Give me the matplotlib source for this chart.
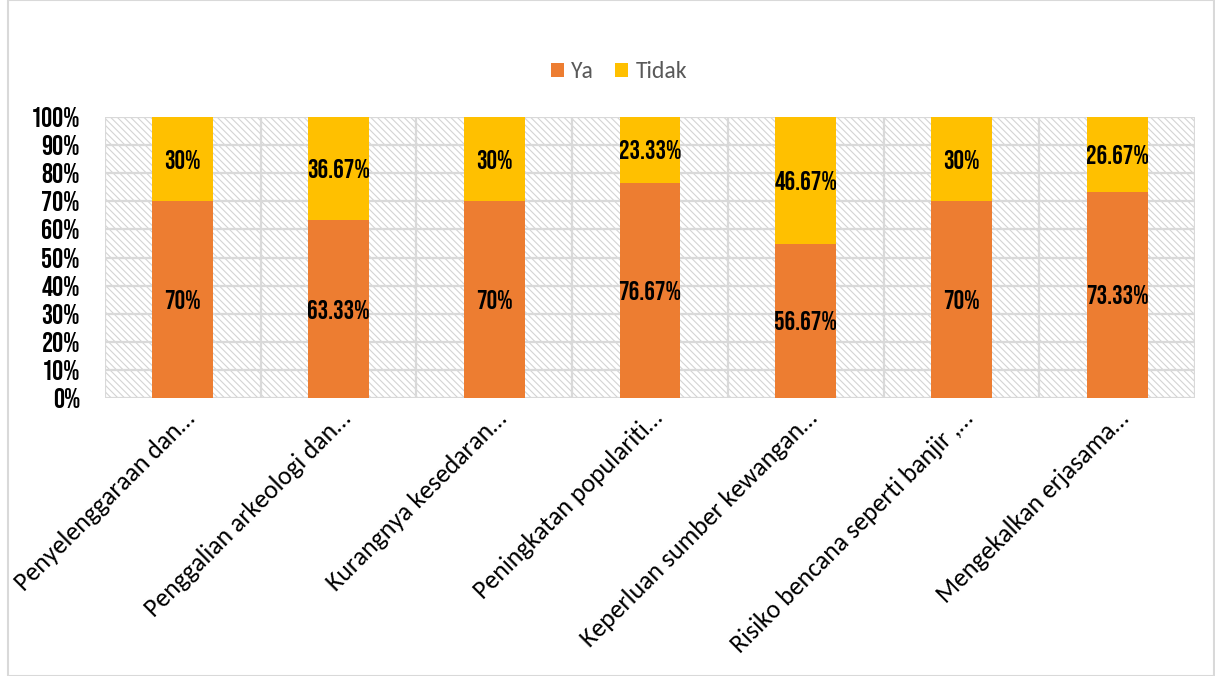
import matplotlib
matplotlib.use("Agg")
import matplotlib.pyplot as plt
import numpy as np
from matplotlib.patches import Rectangle
from matplotlib import font_manager as fm

categories = [
    "Penyelenggaraan dan…",
    "Penggalian arkeologi dan…",
    "Kurangnya kesedaran…",
    "Peningkatan populariti…",
    "Keperluan sumber kewangan…",
    "Risiko bencana seperti banjir ,…",
    "Mengekalkan erjasama…",
]
ya = [70, 63.33, 70, 76.67, 56.67, 70, 73.33]
tidak = [30, 36.67, 30, 23.33, 46.67, 30, 26.67]
yticks = [0, 10, 20, 30, 40, 50, 60, 70, 80, 90, 100]

names = {f.name for f in fm.fontManager.ttflist}

def pick(cands):
    for c in cands:
        if c in names:
            return c
    return "DejaVu Sans"

cond = pick(["Bebas Neue", "Saira Extra Condensed", "Teko", "Oswald", "IBM Plex Sans Condensed"])
lab_font = pick(["Carlito", "Lato", "Open Sans"])

plt.rcParams['hatch.color'] = "#d4d4d4"
plt.rcParams['hatch.linewidth'] = 0.8

c_ya = "#ED7D31"
c_tidak = "#FFC000"

fig = plt.figure(figsize=(12.15, 6.76), dpi=100)
ax = fig.add_axes([105/1215, 1 - 398/676, (1195-105)/1215, (398-117)/676])

ya_a = np.array(ya)
ti_a = np.array(tidak)
tot = ya_a + ti_a
ya_p = ya_a / tot * 100
ti_p = ti_a / tot * 100

x = np.arange(len(categories))
ax.set_xlim(-0.5, len(categories) - 0.5)
ax.set_ylim(0, 100)

bg = Rectangle((0, 0), 1, 1, transform=ax.transAxes, facecolor="white",
               edgecolor="#d4d4d4", hatch="\\\\\\\\\\", linewidth=0, zorder=0)
ax.add_patch(bg)

for yv in yticks:
    ax.axhline(yv, color="#d9d9d9", lw=1.6, zorder=1)
for xv in np.arange(-0.5, len(categories), 1.0):
    ax.axvline(xv, color="#d9d9d9", lw=1.6, zorder=1)

w = 0.39
b1 = ax.bar(x, ya_p, w, color=c_ya, label="Ya", zorder=3)
b2 = ax.bar(x, ti_p, w, bottom=ya_p, color=c_tidak, label="Tidak", zorder=3)

def fmt(v):
    s = f"{v:.2f}".rstrip("0").rstrip(".")
    return s + "%"

dl = dict(fontsize=19, fontweight="bold", family=cond, color="black", zorder=4,
          ha="center", va="center")
for i in range(len(categories)):
    ax.text(x[i], ya_p[i] / 2, fmt(ya[i]), **dl)
    ax.text(x[i], ya_p[i] + ti_p[i] / 2, fmt(tidak[i]), **dl)

for s in ax.spines.values():
    s.set_visible(False)

ax.set_yticks(yticks)
ax.set_yticklabels([f"{v}%" for v in yticks], family=cond, fontweight="bold",
                   fontsize=20, color="black")
ax.tick_params(axis="y", length=0, pad=18)
ax.set_xticks(x)
ax.set_xticklabels(categories, rotation=45, ha="right", rotation_mode="anchor",
                   family=lab_font, fontsize=18.5, color="black")
ax.tick_params(axis="x", length=0, pad=6)

leg = fig.legend(handles=[b1, b2], labels=["Ya", "Tidak"], loc="center",
                 bbox_to_anchor=(619/1215, 1 - 72/676), ncol=2, frameon=False,
                 handlelength=0.55, handleheight=0.55, handletextpad=0.3,
                 columnspacing=0.9, prop={"family": lab_font, "size": 17})
for t in leg.get_texts():
    t.set_color("#595959")

fig.patches.append(Rectangle((8/1215, 0), 1 - 9/1215, 1, transform=fig.transFigure,
                             fill=False, edgecolor="#d9d9d9", lw=1.5))

fig.savefig("out.png", dpi=100)
